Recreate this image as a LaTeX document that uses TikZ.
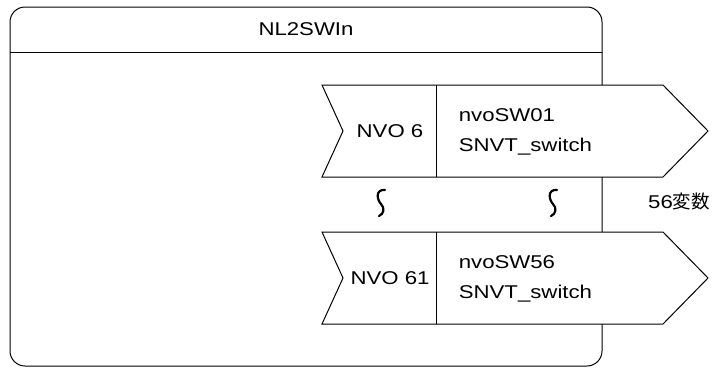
\documentclass[tikz,border=0pt]{standalone}
\usepackage{fontspec}
\setmainfont[FakeStretch=1.2]{Liberation Sans}
\newfontfamily\jpfont{Noto Sans CJK JP}
\usetikzlibrary{positioning}

\begin{document}
\begin{tikzpicture}[x=1pt, y=-1pt, line width=1pt, font=\fontsize{18.5}{30}\selectfont]
	\useasboundingbox (0,0) rectangle (720,367);

	%%% Blocco esterno
	\draw[rounded corners=15] (10,7) rectangle (602,366);
	\draw (10,52) -- (602,52);
	\node (titolo) at (306,29) {NL2SWIn};

	%%% Frecce delle variabili
	\foreach \t/\nv/\sw in {85/6/01, 232/61/56}{
		\draw[fill=white] (322,\t) -- (663,\t) -- (708,\t+46) -- (663,\t+92)
			-- (322,\t+92) -- (343,\t+46) -- cycle;
		\draw (436,\t) -- (436,\t+92);
		\node (nvo\nv) at (390,\t+46) {NVO \nv};
		\node[anchor=west, align=left] (sw\sw) at (455,\t+47) {nvoSW\sw\\SNVT\_switch};
	}

	%%% Segni di continuazione
	\foreach \x in {381,553}
		\draw[line width=2.2pt, line cap=round] (\x+4,190) .. controls (\x-6,189) and (\x-4,200) .. (\x,204)
			.. controls (\x+4,208) and (\x+3,214) .. (\x-2,216);
	\node (numero) at (679,201) {56\jpfont 変数};
\end{tikzpicture}
\end{document}
